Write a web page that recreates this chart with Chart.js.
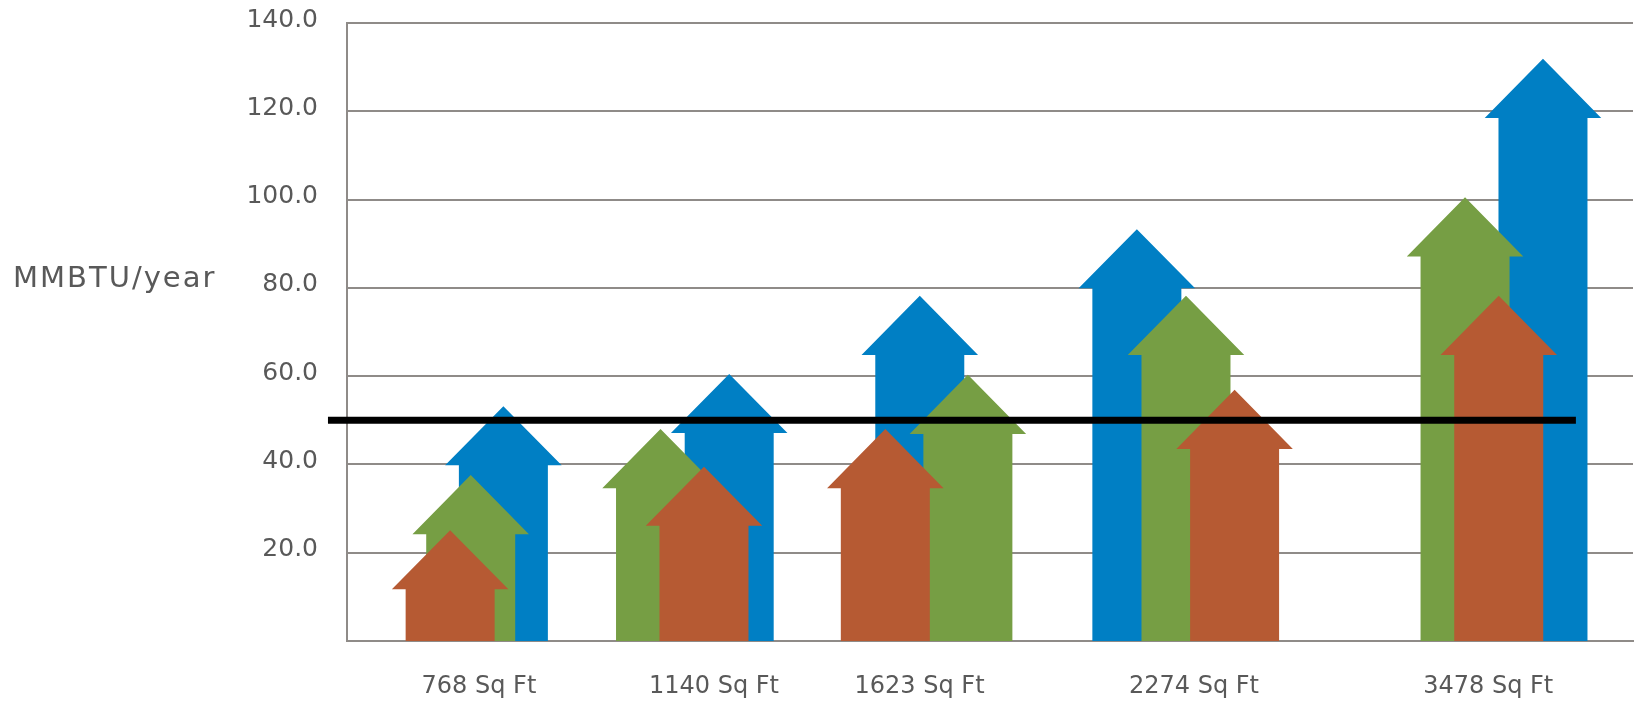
<!DOCTYPE html>
<html>
<head>
<meta charset="utf-8">
<title>MMBTU/year by house size</title>
<script src="https://cdn.jsdelivr.net/npm/chart.js@4/dist/chart.umd.min.js"></script>
<style>
  html, body { margin: 0; padding: 0; background: #fff; }
  #wrap { width: 1640px; height: 703px; }
</style>
</head>
<body>
<div id="wrap"><canvas id="energyChart" width="1640" height="703"></canvas></div>
<script>
// house sizes along the bottom, and where each label sits on the x axis
const categories = ["768 Sq Ft", "1140 Sq Ft", "1623 Sq Ft", "2274 Sq Ft", "3478 Sq Ft"];
const categoryX = [0.513, 1.427, 2.226, 3.293, 4.437];

// arrow tips (MMBTU/year) and arrow positions on the x axis
const blueValues = [53.2, 60.5, 78.2, 93.3, 131.9];
const blueX = [0.608, 1.486, 2.227, 3.071, 4.650];
const greenValues = [37.6, 48.0, 60.3, 78.2, 100.5];
const greenX = [0.481, 1.219, 2.414, 3.262, 4.347];
const orangeValues = [25.1, 39.5, 48.0, 56.9, 78.2];
const orangeX = [0.401, 1.388, 2.093, 3.451, 4.478];

// horizontal reference line
const targetValue = 50;
const targetX = [-0.074, 4.778];

const yTicks = [0, 20, 40, 60, 80, 100, 120, 140];

// arrow shape, in axis units
const SHAFT_W = 0.346;
const HEAD_W = 0.453;
const HEAD_H = 13.4;

const GRID = "#8f8b88";
const TEXT = "#595959";
const FONT = "'DejaVu Sans', sans-serif";

function points(xs, ys) {
  return xs.map((x, i) => ({ x: x, y: ys[i] }));
}

// draws each point of an arrow dataset as a block arrow standing on zero
const arrowPlugin = {
  id: "arrows",
  beforeDatasetsDraw(chart) {
    const ctx = chart.ctx;
    const x = chart.scales.x;
    const y = chart.scales.y;
    const base = y.getPixelForValue(0);
    const shaft = (x.getPixelForValue(SHAFT_W) - x.getPixelForValue(0)) / 2;
    const head = (x.getPixelForValue(HEAD_W) - x.getPixelForValue(0)) / 2;
    const headH = base - y.getPixelForValue(HEAD_H);
    ctx.save();
    chart.data.datasets.forEach((ds, i) => {
      if (!ds.arrow) return;
      ctx.fillStyle = ds.backgroundColor;
      chart.getDatasetMeta(i).data.forEach((pt) => {
        ctx.beginPath();
        ctx.moveTo(pt.x, pt.y);
        ctx.lineTo(pt.x + head, pt.y + headH);
        ctx.lineTo(pt.x + shaft, pt.y + headH);
        ctx.lineTo(pt.x + shaft, base);
        ctx.lineTo(pt.x - shaft, base);
        ctx.lineTo(pt.x - shaft, pt.y + headH);
        ctx.lineTo(pt.x - head, pt.y + headH);
        ctx.closePath();
        ctx.fill();
      });
    });
    ctx.restore();
  }
};

// horizontal y axis title on the left
const yTitlePlugin = {
  id: "yTitle",
  afterDraw(chart) {
    const ctx = chart.ctx;
    ctx.save();
    ctx.font = "29px " + FONT;
    ctx.fillStyle = TEXT;
    ctx.textAlign = "left";
    ctx.textBaseline = "alphabetic";
    ctx.letterSpacing = "2px";
    ctx.fillText("MMBTU/year", 13, 287);
    ctx.restore();
  }
};

const ctx = document.getElementById("energyChart").getContext("2d");

new Chart(ctx, {
  type: "scatter",
  data: {
    datasets: [
      {
        label: "Series 1",
        arrow: true,
        data: points(blueX, blueValues),
        backgroundColor: "#007fc4",
        pointRadius: 0,
        pointHitRadius: 30
      },
      {
        label: "Series 2",
        arrow: true,
        data: points(greenX, greenValues),
        backgroundColor: "#769e44",
        pointRadius: 0,
        pointHitRadius: 30
      },
      {
        label: "Series 3",
        arrow: true,
        data: points(orangeX, orangeValues),
        backgroundColor: "#b65a33",
        pointRadius: 0,
        pointHitRadius: 30
      },
      {
        label: "Target",
        data: targetX.map((x) => ({ x: x, y: targetValue })),
        showLine: true,
        borderColor: "#000",
        borderWidth: 7,
        pointRadius: 0,
        clip: false
      }
    ]
  },
  options: {
    responsive: false,
    animation: false,
    layout: { padding: { left: 0, top: 23, right: 7, bottom: 0 } },
    plugins: {
      legend: { display: false },
      tooltip: { enabled: true }
    },
    scales: {
      x: {
        type: "linear",
        min: 0,
        max: 5,
        grid: { display: false },
        border: { display: true, color: GRID, width: 2 },
        afterBuildTicks: (axis) => {
          axis.ticks = categoryX.map((v) => ({ value: v }));
        },
        afterFit: (axis) => {
          axis.height = 62;
        },
        ticks: {
          autoSkip: false,
          maxRotation: 0,
          padding: 23,
          color: TEXT,
          font: { family: FONT, size: 24 },
          callback: (value, index) => categories[index]
        }
      },
      y: {
        min: 0,
        max: 140,
        afterBuildTicks: (axis) => {
          axis.ticks = yTicks.map((v) => ({ value: v }));
        },
        afterFit: (axis) => {
          axis.width = 347;
          // let the top label hang above the plot instead of shrinking it
          axis.paddingTop = 0;
          axis.paddingBottom = 0;
        },
        grid: { color: GRID, lineWidth: 2, drawTicks: false },
        border: { display: true, color: GRID, width: 2 },
        ticks: {
          padding: 29,
          labelOffset: -3,
          color: TEXT,
          font: { family: FONT, size: 25 },
          callback: (value) => (value === 0 ? "" : value.toFixed(1))
        }
      }
    }
  },
  plugins: [arrowPlugin, yTitlePlugin]
});
</script>
</body>
</html>
